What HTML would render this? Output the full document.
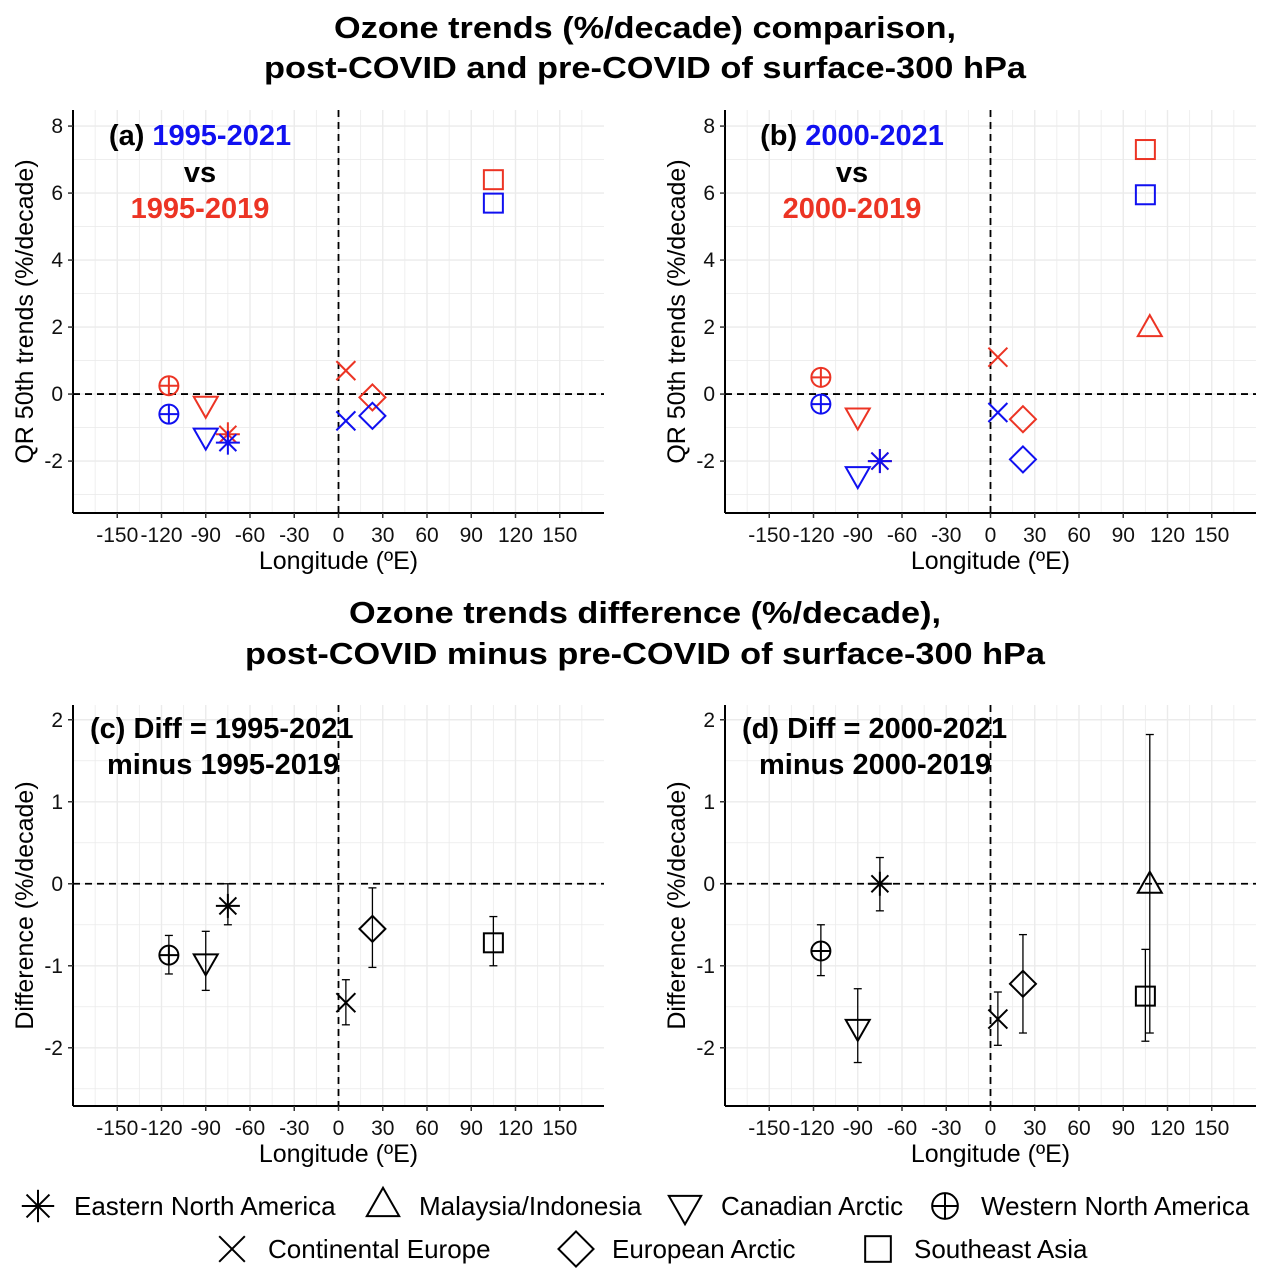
<!DOCTYPE html>
<html><head><meta charset="utf-8"><style>
body{margin:0;background:#fff;}
svg{font-family:"Liberation Sans",sans-serif;}
</style></head><body>
<svg id="fig" width="1272" height="1279" viewBox="0 0 1272 1279">
<text x="645" y="38" font-size="31" font-weight="bold" text-anchor="middle" textLength="622" lengthAdjust="spacingAndGlyphs">Ozone trends (%/decade) comparison,</text>
<text x="645" y="78" font-size="31" font-weight="bold" text-anchor="middle" textLength="762" lengthAdjust="spacingAndGlyphs">post-COVID and pre-COVID of surface-300 hPa</text>
<text x="645" y="623" font-size="31" font-weight="bold" text-anchor="middle" textLength="592" lengthAdjust="spacingAndGlyphs">Ozone trends difference (%/decade),</text>
<text x="645" y="664" font-size="31" font-weight="bold" text-anchor="middle" textLength="800" lengthAdjust="spacingAndGlyphs">post-COVID minus pre-COVID of surface-300 hPa</text>
<g id="legend"></g>
</svg>
<script>
const regions=["ENA","MI","CA","WNA","CE","EA","SEA"];
const regionLabels=["Eastern North America","Malaysia/Indonesia","Canadian Arctic","Western North America","Continental Europe","European Arctic","Southeast Asia"];
const lonA=[-75,null,-90,-115,5,23,105];
const blueA=[-1.45,null,-1.3,-0.6,-0.8,-0.65,5.7];
const redA=[-1.2,null,-0.35,0.25,0.7,-0.1,6.4];
const lonB=[-75,108,-90,-115,5,22,105];
const blueB=[-2.0,null,-2.45,-0.3,-0.55,-1.95,5.95];
const redB=[-2.0,2.0,-0.7,0.5,1.1,-0.75,7.3];
const lonC=[-75,null,-90,-115,5,23,105];
const diffC=[-0.27,null,-0.97,-0.87,-1.45,-0.55,-0.72];
const loC=[-0.5,null,-1.3,-1.1,-1.72,-1.02,-1.0];
const hiC=[0,null,-0.58,-0.63,-1.17,-0.05,-0.4];
const lonD=[-75,108,-90,-115,5,22,105];
const diffD=[0,0,-1.77,-0.82,-1.65,-1.22,-1.37];
const loD=[-0.33,-1.82,-2.18,-1.12,-1.97,-1.82,-1.92];
const hiD=[0.32,1.82,-1.28,-0.5,-1.32,-0.62,-0.8];
const xTicks=[-150,-120,-90,-60,-30,0,30,60,90,120,150];
const yTicksTop=[-2,0,2,4,6,8];
const yTicksBot=[-2,-1,0,1,2];
const BLUE="#1010f0",RED="#ec3424";
const NS="http://www.w3.org/2000/svg";
const svg=document.getElementById('fig');
function mk(tag,attrs,parent){const e=document.createElementNS(NS,tag);for(const k in attrs)e.setAttribute(k,attrs[k]);(parent||svg).appendChild(e);return e;}
function marker(g,type,cx,cy,col,k){
 k=k||1;const sw=2;const st={stroke:col,'stroke-width':sw,fill:'none'};
 let m;
 if(type==="ENA"){const s=12*k;m=mk('g',st,g);for(let a=0;a<4;a++){const t=a*Math.PI/4+Math.PI/2;mk('line',{x1:cx-s*Math.cos(t),y1:cy-s*Math.sin(t),x2:cx+s*Math.cos(t),y2:cy+s*Math.sin(t)},m);}}
 else if(type==="MI"){const s=12*k;m=mk('polygon',Object.assign({points:`${cx},${cy-s} ${cx+s},${cy+0.75*s} ${cx-s},${cy+0.75*s}`},st),g);}
 else if(type==="CA"){const s=12*k;m=mk('polygon',Object.assign({points:`${cx},${cy+s} ${cx+s},${cy-0.75*s} ${cx-s},${cy-0.75*s}`},st),g);}
 else if(type==="WNA"){const s=9.5*k;m=mk('g',st,g);mk('circle',{cx:cx,cy:cy,r:s},m);mk('line',{x1:cx-s,y1:cy,x2:cx+s,y2:cy},m);mk('line',{x1:cx,y1:cy-s,x2:cx,y2:cy+s},m);}
 else if(type==="CE"){const s=9.5*k;m=mk('g',st,g);mk('line',{x1:cx-s,y1:cy-s,x2:cx+s,y2:cy+s},m);mk('line',{x1:cx-s,y1:cy+s,x2:cx+s,y2:cy-s},m);}
 else if(type==="EA"){const s=13*k;m=mk('polygon',Object.assign({points:`${cx},${cy-s} ${cx+s},${cy} ${cx},${cy+s} ${cx-s},${cy}`},st),g);}
 else {const s=9.5*k;m=mk('rect',Object.assign({x:cx-s,y:cy-s,width:2*s,height:2*s},st),g);}
 
 
 return m;
}
function panel(id,x0,y0,w,h,ymin,ymax,yTicks,yStep,ytitle){
 const g=mk('g',{});
 
 
 const X=v=>x0+(v+180)/360*w;
 const Y=v=>y0+(ymax-v)/(ymax-ymin)*h;
 for(let v=-165;v<=165;v+=15){mk('line',{x1:X(v),x2:X(v),y1:y0,y2:y0+h,stroke:'#ebebeb','stroke-width':v%30===0?1.4:0.8},g);}
 for(let v=Math.ceil(ymin/(yStep/2))*(yStep/2);v<=ymax;v+=yStep/2){const maj=Math.abs(v/yStep-Math.round(v/yStep))<1e-6;mk('line',{x1:x0,x2:x0+w,y1:Y(v),y2:Y(v),stroke:'#ebebeb','stroke-width':maj?1.4:0.8},g);}
 mk('line',{x1:X(0),x2:X(0),y1:y0,y2:y0+h,stroke:'#000','stroke-width':1.8,'stroke-dasharray':'7,5'},g);
 mk('line',{x1:x0,x2:x0+w,y1:Y(0),y2:Y(0),stroke:'#000','stroke-width':1.8,'stroke-dasharray':'7,5'},g);
 mk('line',{x1:x0,x2:x0,y1:y0,y2:y0+h,stroke:'#000','stroke-width':2},g);
 mk('line',{x1:x0,x2:x0+w,y1:y0+h,y2:y0+h,stroke:'#000','stroke-width':2},g);
 xTicks.forEach(v=>{mk('line',{x1:X(v),x2:X(v),y1:y0+h,y2:y0+h+5,stroke:'#333','stroke-width':1.5},g);const t=mk('text',{x:X(v),y:y0+h+29,'font-size':21,'text-anchor':'middle',fill:'#111'},g);t.textContent=v;});
 yTicks.forEach(v=>{mk('line',{x1:x0-5,x2:x0,y1:Y(v),y2:Y(v),stroke:'#333','stroke-width':1.5},g);const t=mk('text',{x:x0-10,y:Y(v)+7,'font-size':21,'text-anchor':'end',fill:'#111'},g);t.textContent=v;});
 const xt=mk('text',{x:x0+w/2,y:y0+h+56,'font-size':25,'text-anchor':'middle'},g);xt.textContent="Longitude (ºE)";
 const cy=y0+h/2;const yt=mk('text',{x:x0-40,y:cy,'font-size':25,'text-anchor':'middle',transform:`rotate(-90 ${x0-40} ${cy})`},g);yt.textContent=ytitle;
 return {g,X,Y};
}
const W=531,Htop=403,Hbot=401;
function topPanel(id,x0,lon,blue,red,lbl1,lbl2){
 const p=panel(id,x0,110,W,Htop,-3.55,8.48,yTicksTop,2,"QR 50th trends (%/decade)");
 regions.forEach((r,i)=>{if(lon[i]===null)return;if(red[i]!==null)marker(p.g,r,p.X(lon[i]),p.Y(red[i]),RED);if(blue[i]!==null)marker(p.g,r,p.X(lon[i]),p.Y(blue[i]),BLUE);});
 const cx=x0+127;
 const t1=mk('text',{x:cx,y:145,'font-size':29,'font-weight':'bold','text-anchor':'middle'},p.g);
 t1.innerHTML=`${lbl1} <tspan fill="${BLUE}">${lbl2[0]}</tspan>`;
 const t2=mk('text',{x:cx,y:182,'font-size':29,'font-weight':'bold','text-anchor':'middle'},p.g);t2.textContent="vs";
 const t3=mk('text',{x:cx,y:218,'font-size':29,'font-weight':'bold','text-anchor':'middle',fill:RED},p.g);t3.textContent=lbl2[1];
}
topPanel('a',73,lonA,blueA,redA,"(a)",["1995-2021","1995-2019"]);
topPanel('b',725,lonB,blueB,redB,"(b)",["2000-2021","2000-2019"]);
function botPanel(id,x0,lon,d,lo,hi,l1,l2){
 const p=panel(id,x0,705,W,Hbot,-2.71,2.18,yTicksBot,1,"Difference (%/decade)");
 regions.forEach((r,i)=>{if(lon[i]===null)return;const x=p.X(lon[i]);
  const eb=mk('g',{stroke:'#000','stroke-width':1.3},p.g);
  
  
  mk('line',{x1:x,x2:x,y1:p.Y(lo[i]),y2:p.Y(hi[i])},eb);
  mk('line',{x1:x-4,x2:x+4,y1:p.Y(lo[i]),y2:p.Y(lo[i])},eb);
  mk('line',{x1:x-4,x2:x+4,y1:p.Y(hi[i]),y2:p.Y(hi[i])},eb);
  marker(p.g,r,x,p.Y(d[i]),'#000');});
 const a=mk('text',{x:x0+17,y:738,'font-size':29,'font-weight':'bold'},p.g);a.textContent=l1;
 const b=mk('text',{x:x0+34,y:774,'font-size':29,'font-weight':'bold'},p.g);b.textContent=l2;
}
botPanel('c',73,lonC,diffC,loC,hiC,"(c) Diff = 1995-2021","minus 1995-2019");
botPanel('d',725,lonD,diffD,loD,hiD,"(d) Diff = 2000-2021","minus 2000-2019");
const lg=document.getElementById('legend');
const legPos=[[38,1206],[383,1204],[685,1208],[945,1206],[232,1249],[576,1249],[878,1249]];
regions.forEach((r,i)=>{const [x,y]=legPos[i];marker(lg,r,x,y,'#000',1.35);const t=mk('text',{x:x+36,y:1206+(i>=4?43:0)+9,'font-size':26},lg);t.textContent=regionLabels[i];});
</script>
</body></html>
